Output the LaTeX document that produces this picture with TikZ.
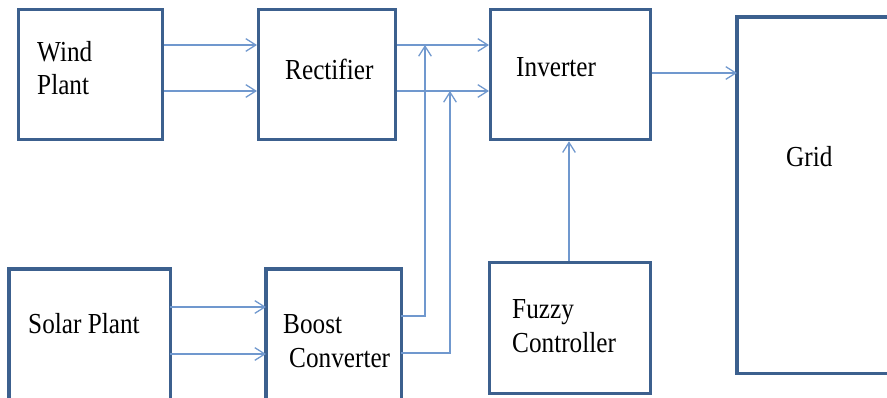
\documentclass[tikz,border=0pt]{standalone}
\usepackage{fontspec}
\setmainfont{Liberation Serif}[FakeStretch=0.87]
\usetikzlibrary{arrows.meta}
\definecolor{boxblue}{RGB}{60,96,142}
\definecolor{linkblue}{RGB}{112,152,206}

\begin{document}
\begin{tikzpicture}[x=0.03cm, y=-0.03cm,
    font=\fontsize{24.75}{29}\selectfont,
    block/.style={draw=boxblue, line width=2.8pt, anchor=north west, inner sep=0pt},
    txt/.style={anchor=base west, inner sep=0pt, align=left},
    link/.style={draw=linkblue, line width=1.1pt, -{Straight Barb[length=0.3cm, width=0.38cm]}}]
    % Frame of the picture
    \useasboundingbox (0,0) rectangle (887,398);
    % Blocks
    \node[block, minimum width=4.32cm, minimum height=3.9cm] (wind) at (17,8) {};
    \node[block, minimum width=4.11cm, minimum height=3.9cm] (rect) at (257,8) {};
    \node[block, minimum width=4.8cm, minimum height=3.9cm] (inv) at (489,8) {};
    \node[block, minimum width=4.83cm, minimum height=3.93cm] (fuzzy) at (488,261) {};
    % these three run off the edge of the picture
    \node[draw=none, anchor=north west, inner sep=0pt, minimum width=4.48cm, minimum height=10.68cm] (grid) at (737,17) {};
    \node[draw=none, anchor=north west, inner sep=0pt, minimum width=4.83cm, minimum height=4.5cm] (solar) at (9,269) {};
    \node[draw=none, anchor=north west, inner sep=0pt, minimum width=4.05cm, minimum height=4.5cm] (boost) at (266,269) {};
    \draw[boxblue, line width=2.8pt] (grid.north east) -- (grid.north west)
        -- (grid.south west) -- (grid.south east);
    \draw[boxblue, line width=2.8pt] (solar.south west) -- (solar.north west)
        -- (solar.north east) -- (solar.south east);
    \draw[boxblue, line width=2.8pt] (boost.south west) -- (boost.north west)
        -- (boost.north east) -- (boost.south east);
    % Labels (base of the last line)
    \node[txt] (windtxt) at (37,95) {Wind\\Plant};
    \node[txt] (recttxt) at (285,80) {Rectifier};
    \node[txt] (invtxt) at (516,77) {Inverter};
    \node[txt] (gridtxt) at (786,167) {Grid};
    \node[txt] (solartxt) at (28,333) {Solar Plant};
    \node[txt] (boosttxt) at (283,367) {Boost\\\hspace{0.18cm}Converter};
    \node[txt] (fuzzytxt) at (512,352) {Fuzzy\\Controller};
    % Levels of the connectors
    \coordinate (upA) at (0,45);
    \coordinate (upB) at (0,91);
    \coordinate (out) at (0,73);
    \coordinate (lowA) at (0,307);
    \coordinate (lowB) at (0,354);
    \coordinate (boA) at (0,316);
    \coordinate (boB) at (0,353);
    \coordinate (tapA) at (425,45);
    \coordinate (tapB) at (450,91);
    \coordinate (ctl) at (569,0);
    % Connectors
    \draw[link] (wind.east |- upA) -- (rect.west |- upA);
    \draw[link] (wind.east |- upB) -- (rect.west |- upB);
    \draw[link] (rect.east |- upA) -- (inv.west |- upA);
    \draw[link] (rect.east |- upB) -- (inv.west |- upB);
    \draw[link] (inv.east |- out) -- (grid.west |- out);
    \draw[link] (solar.east |- lowA) -- (boost.west |- lowA);
    \draw[link] (solar.east |- lowB) -- (boost.west |- lowB);
    \draw[link] (boost.east |- boA) -| (tapA);
    \draw[link] (boost.east |- boB) -| (tapB);
    \draw[link] (fuzzy.north -| ctl) -- (inv.south -| ctl);
\end{tikzpicture}
\end{document}
